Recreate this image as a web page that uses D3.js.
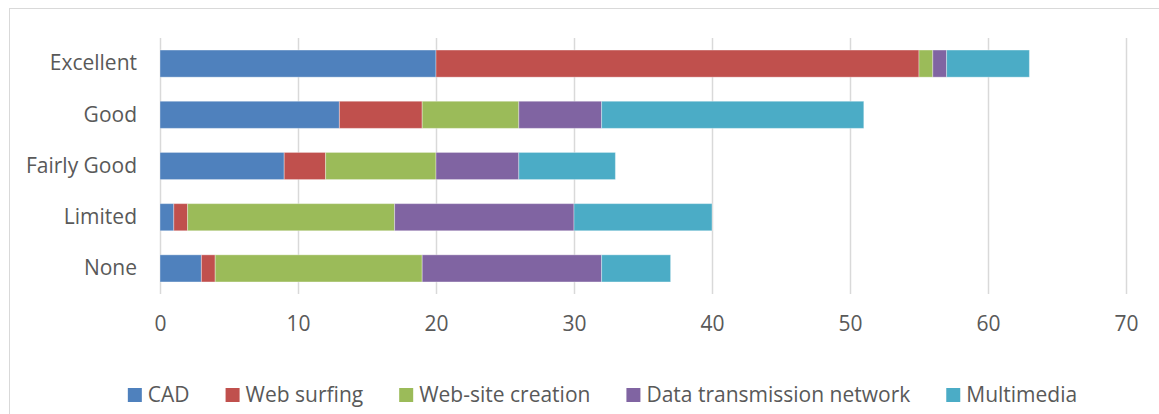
<!DOCTYPE html>
<html><head><meta charset="utf-8">
<script src="https://cdn.jsdelivr.net/npm/d3@7"></script>
<style>
html,body{margin:0;padding:0;background:#fff;}
svg{display:block;font-family:"Open Sans",Lato,sans-serif;}
</style></head>
<body><svg id="c" width="1159" height="414"></svg>
<script>
const categories = ["Excellent","Good","Fairly Good","Limited","None"];
const seriesNames = ["CAD","Web surfing","Web-site creation","Data transmission network","Multimedia"];
const cad = [20,13,9,1,3];
const webSurfing = [35,6,3,1,1];
const webSiteCreation = [1,7,8,15,15];
const dataTransmission = [1,6,6,13,13];
const multimedia = [6,19,7,10,5];
const xTicks = [0,10,20,30,40,50,60,70];
const colors = ["#4F81BD","#C0504D","#9BBB59","#8064A2","#4BACC6"];

const seriesValues = [cad, webSurfing, webSiteCreation, dataTransmission, multimedia];
const table = categories.map((c,i)=>{
  const o = {category:c};
  seriesNames.forEach((s,j)=>o[s]=seriesValues[j][i]);
  return o;
});
const stack = d3.stack().keys(seriesNames)(table);

const FONT = 21;
const TXT = "#595959";
const svg = d3.select("#c");
// chart border
svg.append("rect").attr("x",9.5).attr("y",8.5).attr("width",1200).attr("height",500)
  .attr("fill","none").attr("stroke","#d9d9d9").attr("stroke-width",1);

const x = d3.scaleLinear().domain([0,70]).range([160,1126]);
const y = d3.scaleBand().domain(categories).range([38,294]).paddingInner(0.47).paddingOuter(0.235);

// gridlines
svg.append("g").selectAll("line").data(xTicks).join("line")
  .attr("x1",d=>Math.round(x(d))+0.5).attr("x2",d=>Math.round(x(d))+0.5)
  .attr("y1",38).attr("y2",294).attr("stroke","#d9d9d9").attr("stroke-width",1.5);

// bars
svg.append("g").selectAll("g").data(stack).join("g")
  .attr("fill",(d,i)=>colors[i])
  .selectAll("rect").data(d=>d).join("rect")
  .attr("x",d=>x(d[0])).attr("width",d=>x(d[1])-x(d[0]))
  .attr("y",d=>y(d.data.category)).attr("height",y.bandwidth())
  .attr("stroke","#ffffff").attr("stroke-opacity",0.35).attr("stroke-width",1);

// x axis labels
const xAxis = d3.axisBottom(x).tickValues(xTicks).tickSize(0).tickPadding(0);
const gx = svg.append("g").attr("transform","translate(0,316)").call(xAxis);
gx.select(".domain").remove();
gx.selectAll("text").attr("font-size",FONT).attr("fill",TXT).attr("font-family","'Open Sans',Lato,sans-serif");

// y axis labels
const yAxis = d3.axisLeft(y).tickSize(0).tickPadding(0);
const gy = svg.append("g").attr("transform","translate(137,0)").call(yAxis);
gy.select(".domain").remove();
gy.selectAll("text").attr("font-size",FONT).attr("fill",TXT).attr("font-family","'Open Sans',Lato,sans-serif");

// legend
const lg = svg.append("g");
const items = lg.selectAll("g").data(seriesNames).join("g");
items.append("rect").attr("y",-7).attr("width",14).attr("height",14).attr("fill",(d,i)=>colors[i]);
items.append("text").attr("x",20).attr("dy","0.35em")
  .attr("font-size",FONT).attr("fill",TXT).text(d=>d);
let cx = 0;
const widths = [];
items.each(function(){ const w = 20 + this.querySelector("text").getComputedTextLength(); widths.push(w); });
const offs = widths.map((w,i)=>{ const o = cx; cx += w + 36; return o; });
const total = cx - 36;
const startX = 602.5 - total/2;
items.attr("transform",(d,i)=>`translate(${startX+offs[i]},395)`);
</script></body></html>
